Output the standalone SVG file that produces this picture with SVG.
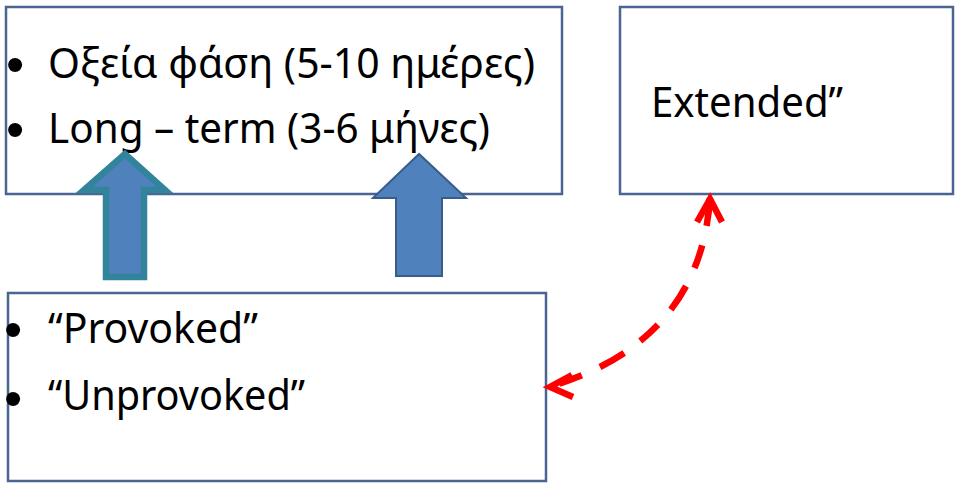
<svg xmlns="http://www.w3.org/2000/svg" width="960" height="489" viewBox="0 0 960 489">
<style>
.box{fill:#ffffff;stroke:#4A6690;stroke-width:2.5}
.t{font-family:"Noto Sans","Open Sans","Liberation Sans",sans-serif;font-size:41px;fill:#000}
.b{font-family:"Liberation Sans",Arial,sans-serif;font-size:52px;fill:#000}
.red{fill:none;stroke:#FF0000;stroke-width:6.5}
</style>
<rect width="960" height="489" fill="#ffffff"/>
<g id="box-phase">
<rect class="box" x="6" y="7" width="556" height="187"/>
<text class="b" x="6" y="82">•</text>
<text class="t" x="48" y="78" textLength="487" lengthAdjust="spacingAndGlyphs">Οξεία φάση (5-10 ημέρες)</text>
<text class="b" x="6" y="147">•</text>
<text class="t" x="48" y="143" textLength="442" lengthAdjust="spacingAndGlyphs">Long – term (3-6 μήνες)</text>
</g>
<g id="box-extended">
<rect class="box" x="620" y="7" width="333" height="187"/>
<text class="t" x="651" y="117" textLength="192" lengthAdjust="spacingAndGlyphs">Extended”</text>
</g>
<g id="box-provoked">
<rect class="box" x="8" y="293" width="538" height="188"/>
<text class="b" x="4" y="347">•</text>
<text class="t" x="48" y="343" textLength="210" lengthAdjust="spacingAndGlyphs">“Provoked”</text>
<text class="b" x="4" y="416">•</text>
<text class="t" x="48" y="410" textLength="257" lengthAdjust="spacingAndGlyphs">“Unprovoked”</text>
</g>
<g id="connectors">
<polygon id="arrow-left" points="125,154 84,190 106,190 106,277 144,277 144,190 165,190" fill="#4F81BD" stroke="#31849B" stroke-width="6.5" stroke-linejoin="miter"/>
<polygon id="arrow-right" points="419,154 373,198 396,198 396,276 442,276 442,198 466,198" fill="#4F81BD" stroke="#385D8A" stroke-width="2"/>
<path class="red" d="M710,198 Q700,342 549,387" stroke-dasharray="28 20 24 20"/>
<polyline class="red" points="697,222 710,199 722,222"/>
<polyline class="red" points="572,375 550,387 573,397"/>
</g>
</svg>
